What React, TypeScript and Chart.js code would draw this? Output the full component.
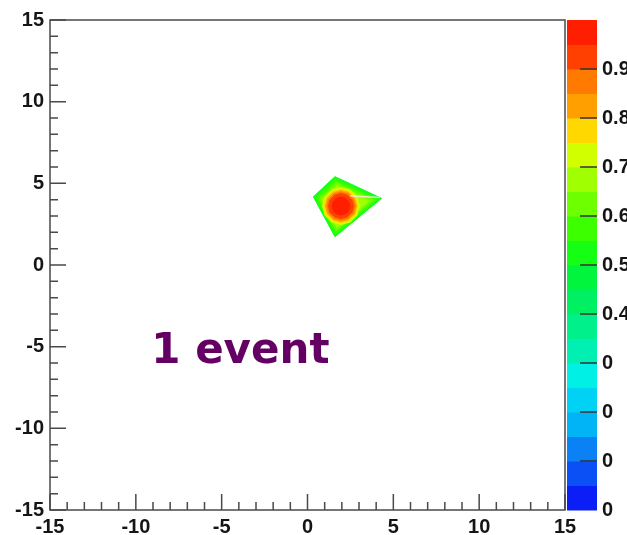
import React, { useEffect, useRef } from 'react';
import { Chart, registerables } from 'chart.js';

Chart.register(...registerables);

// ---- axis ticks ----
const xMajorTicks = [-15, -10, -5, 0, 5, 10, 15];
const yMajorTicks = [-15, -10, -5, 0, 5, 10, 15];
const minorTicks = [-14, -13, -12, -11, -9, -8, -7, -6, -4, -3, -2, -1, 1, 2, 3, 4, 6, 7, 8, 9, 11, 12, 13, 14];

// ---- colour palette (z axis) ----
const zTickValues = [0, 0.1, 0.2, 0.3, 0.4, 0.5, 0.6, 0.7, 0.8, 0.9];
const zTickLabels = ['0', '0', '0', '0', '0.4', '0.5', '0.6', '0.7', '0.8', '0.9'];
const paletteLevels = [0, 0.05, 0.1, 0.15, 0.2, 0.25, 0.3, 0.35, 0.4, 0.45, 0.5, 0.55, 0.6, 0.65, 0.7, 0.75, 0.8, 0.85, 0.9, 0.95, 1.0];
const paletteColors = [
  '#0a1ef5', '#0a50f5', '#0a82f5', '#00b4f5', '#00d2f5',
  '#00f0e6', '#00f0b4', '#00f08c', '#00f064', '#00f53c',
  '#14ff14', '#3cff00', '#6eff00', '#a0ff00', '#d2ff00',
  '#ffd800', '#ffa000', '#ff7a00', '#ff4000', '#ff1e00',
];

// ---- contour lines (x, y) for each z level ----
const contourLevels = [0.5, 0.55, 0.6, 0.65, 0.7, 0.75, 0.8, 0.85, 0.9, 0.95];
const contour050 = [[1.60, 5.41], [4.32, 4.08], [1.60, 1.73], [0.34, 4.18], [1.60, 5.41]];
const contour055 = [[1.64, 5.23], [4.08, 4.03], [1.64, 1.92], [0.50, 4.12], [1.64, 5.23]];
const contour060 = [[1.67, 5.05], [3.85, 3.99], [1.67, 2.11], [0.66, 4.07], [1.67, 5.05]];
const contour065 = [[1.71, 4.87], [3.61, 3.94], [1.71, 2.29], [0.82, 4.01], [1.71, 4.87]];
const contour070 = [[3.03, 3.61], [2.88, 4.18], [2.49, 4.59], [1.95, 4.74], [1.41, 4.59], [1.02, 4.18], [0.87, 3.61], [1.02, 3.04], [1.41, 2.63], [1.95, 2.48], [2.49, 2.63], [2.88, 3.04], [3.03, 3.61]];
const contour075 = [[2.94, 3.61], [2.81, 4.13], [2.45, 4.51], [1.95, 4.65], [1.46, 4.51], [1.09, 4.13], [0.96, 3.61], [1.09, 3.09], [1.46, 2.71], [1.95, 2.57], [2.45, 2.71], [2.81, 3.09], [2.94, 3.61]];
const contour080 = [[2.85, 3.61], [2.73, 4.09], [2.40, 4.43], [1.95, 4.56], [1.50, 4.43], [1.17, 4.09], [1.05, 3.61], [1.17, 3.14], [1.50, 2.79], [1.95, 2.66], [2.40, 2.79], [2.73, 3.14], [2.85, 3.61]];
const contour085 = [[2.77, 3.61], [2.66, 4.04], [2.36, 4.35], [1.95, 4.47], [1.54, 4.35], [1.24, 4.04], [1.13, 3.61], [1.24, 3.18], [1.54, 2.87], [1.95, 2.75], [2.36, 2.87], [2.66, 3.18], [2.77, 3.61]];
const contour090 = [[2.68, 3.61], [2.58, 3.99], [2.31, 4.27], [1.95, 4.38], [1.59, 4.27], [1.32, 3.99], [1.22, 3.61], [1.32, 3.23], [1.59, 2.95], [1.95, 2.85], [2.31, 2.95], [2.58, 3.23], [2.68, 3.61]];
const contour095 = [[2.47, 3.61], [2.40, 3.89], [2.21, 4.09], [1.95, 4.16], [1.69, 4.09], [1.50, 3.89], [1.43, 3.61], [1.50, 3.33], [1.69, 3.13], [1.95, 3.06], [2.21, 3.13], [2.40, 3.33], [2.47, 3.61]];
const contours = [contour050, contour055, contour060, contour065, contour070, contour075, contour080, contour085, contour090, contour095];

// thin white streak inside the blob
const whiteStreak = [[2.48, 4.24], [4.22, 4.14]];

// annotation
const annotationText = '1 event';
const annotationX = -9.1;
const annotationY = -6;

const TICK_FONT = { family: '"Liberation Sans", Arial, Helvetica, sans-serif', size: 20, weight: 'bold' as const };
const TICK_COLOR = '#151515';

function colorForLevel(level: number) {
  const idx = Math.min(paletteColors.length - 1, Math.floor(level / 0.05 + 1e-6));
  return paletteColors[idx];
}

function zeroPadding(s: any) {
  s.paddingTop = 0;
  s.paddingBottom = 0;
  s.paddingLeft = 0;
  s.paddingRight = 0;
}

export default function App() {
  const ref = useRef<HTMLCanvasElement>(null);

  useEffect(() => {
    const canvas = ref.current;
    if (!canvas) return;

    const rootStyle = {
      id: 'rootStyle',
      afterDatasetsDraw(chart: any) {
        const { ctx, chartArea: a, scales } = chart;
        const x = scales.x;
        const y = scales.y;
        const z = scales.zbar;
        ctx.save();

        // annotation text
        ctx.font = 'bold 42px "DejaVu Sans", Verdana, sans-serif';
        ctx.fillStyle = '#640064';
        ctx.textBaseline = 'alphabetic';
        ctx.textAlign = 'left';
        ctx.fillText(annotationText, x.getPixelForValue(annotationX), y.getPixelForValue(annotationY));

        // frame
        ctx.strokeStyle = '#4a4a4a';
        ctx.lineWidth = 1.5;
        ctx.strokeRect(a.left, a.top, a.right - a.left, a.bottom - a.top);

        // ticks inside the frame
        ctx.beginPath();
        for (const v of xMajorTicks) {
          const px = x.getPixelForValue(v);
          ctx.moveTo(px, a.bottom);
          ctx.lineTo(px, a.bottom - 16);
        }
        for (const v of minorTicks) {
          const px = x.getPixelForValue(v);
          ctx.moveTo(px, a.bottom);
          ctx.lineTo(px, a.bottom - 8);
        }
        for (const v of yMajorTicks) {
          const py = y.getPixelForValue(v);
          ctx.moveTo(a.left, py);
          ctx.lineTo(a.left + 16, py);
        }
        for (const v of minorTicks) {
          const py = y.getPixelForValue(v);
          ctx.moveTo(a.left, py);
          ctx.lineTo(a.left + 8, py);
        }
        ctx.stroke();

        // colour bar
        const barLeft = a.right + 2;
        const barRight = a.right + 32;
        for (let i = 0; i < paletteColors.length; i++) {
          const top = z.getPixelForValue(paletteLevels[i + 1]);
          const bottom = z.getPixelForValue(paletteLevels[i]);
          ctx.fillStyle = paletteColors[i];
          ctx.fillRect(barLeft, top, barRight - barLeft, bottom - top + 0.5);
        }
        ctx.strokeStyle = '#333';
        ctx.lineWidth = 1.5;
        ctx.beginPath();
        for (const v of zTickValues) {
          if (v === 0) continue;
          const py = z.getPixelForValue(v);
          ctx.moveTo(barRight - 17, py);
          ctx.lineTo(barRight, py);
        }
        ctx.stroke();
        ctx.restore();
      },
    };

    const datasets: any[] = contours.map((pts, i) => ({
      label: 'z ' + contourLevels[i],
      data: pts.map(([px, py]) => ({ x: px, y: py })),
      showLine: true,
      fill: 'shape',
      backgroundColor: colorForLevel(contourLevels[i]),
      borderColor: colorForLevel(contourLevels[i]),
      borderWidth: 1,
      pointRadius: 0,
      tension: 0,
      order: contours.length - i,
    }));
    datasets.push({
      label: 'streak',
      data: whiteStreak.map(([px, py]) => ({ x: px, y: py })),
      showLine: true,
      fill: false,
      borderColor: 'rgba(255,235,235,0.85)',
      borderWidth: 1.5,
      pointRadius: 0,
      order: -1,
    });

    const chart = new Chart(canvas, {
      type: 'scatter',
      data: { datasets },
      options: {
        responsive: false,
        animation: false,
        events: [],
        layout: { padding: { top: 20, left: 0, right: 0, bottom: 0 } },
        plugins: { legend: { display: false }, tooltip: { enabled: false } },
        scales: {
          x: {
            type: 'linear',
            min: -15,
            max: 15,
            grid: { display: false, drawTicks: false },
            border: { display: false },
            ticks: {
              stepSize: 5,
              autoSkip: false,
              maxRotation: 0,
              padding: 5,
              font: TICK_FONT,
              color: TICK_COLOR,
              callback: (v: any) => (xMajorTicks.includes(Number(v)) ? String(v) : null),
            },
            afterFit: (s: any) => { s.height = 25; zeroPadding(s); },
          },
          y: {
            type: 'linear',
            min: -15,
            max: 15,
            grid: { display: false, drawTicks: false },
            border: { display: false },
            ticks: {
              stepSize: 5,
              autoSkip: false,
              padding: 6,
              font: TICK_FONT,
              color: TICK_COLOR,
              callback: (v: any) => (yMajorTicks.includes(Number(v)) ? String(v) : null),
            },
            afterFit: (s: any) => { s.width = 50; zeroPadding(s); },
          },
          zbar: {
            type: 'linear',
            axis: 'y',
            position: 'right',
            min: 0,
            max: 1,
            grid: { display: false, drawTicks: false },
            border: { display: false },
            ticks: {
              stepSize: 0.1,
              autoSkip: false,
              padding: 37,
              font: TICK_FONT,
              color: TICK_COLOR,
              callback: (v: any) => {
                const i = zTickValues.findIndex((t) => Math.abs(t - Number(v)) < 1e-6);
                return i >= 0 ? zTickLabels[i] : null;
              },
            },
            afterFit: (s: any) => { s.width = 62; zeroPadding(s); },
          },
        } as any,
      },
      plugins: [rootStyle],
    } as any);

    return () => chart.destroy();
  }, []);

  return (
    <canvas
      ref={ref}
      width={627}
      height={535}
      style={{ position: 'fixed', left: 0, top: 0, width: 627, height: 535, background: '#fff' }}
    />
  );
}
